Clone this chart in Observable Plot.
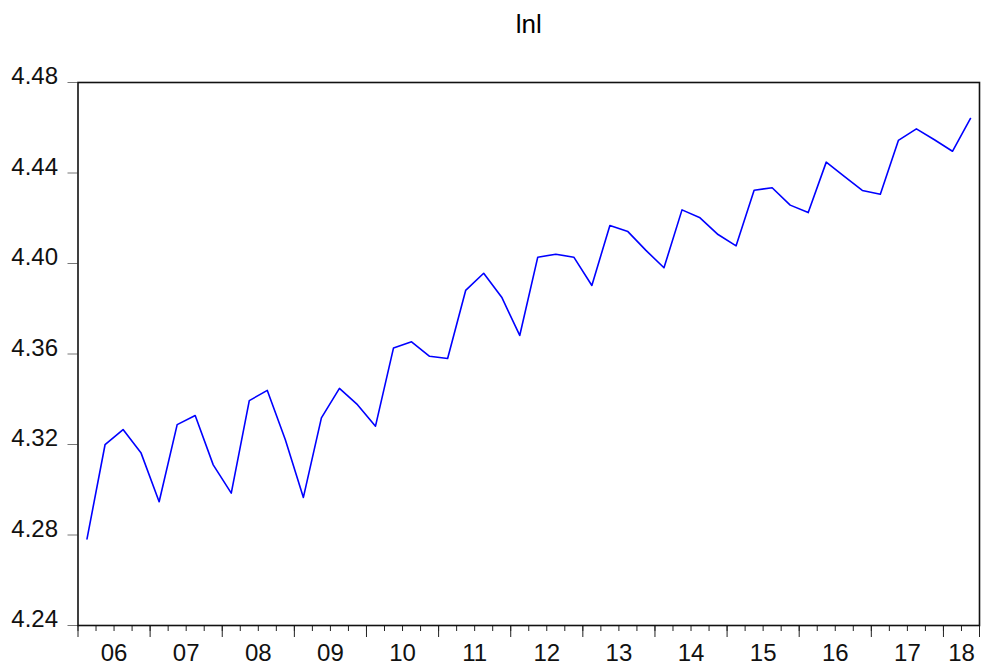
<!DOCTYPE html>
<html>
<head>
<meta charset="utf-8">
<script src="https://cdn.jsdelivr.net/npm/d3@7"></script>
<script src="https://cdn.jsdelivr.net/npm/@observablehq/plot@0.6"></script>
<style>
  html, body { margin: 0; padding: 0; background: #fff; }
  #chart svg { display: block; }
</style>
</head>
<body>
<div id="chart"></div>
<script>
// Series lnl, quarterly, 2006Q1 .. 2018Q2
const title = "lnl";
const startYear = 2006;
const values = [
  4.2783, 4.3199, 4.3266, 4.3162, 4.2947, 4.3288, 4.3328, 4.3110, 4.2985, 4.3394,
  4.3439, 4.3221, 4.2966, 4.3318, 4.3448, 4.3376, 4.3281, 4.3627, 4.3654, 4.3590,
  4.3580, 4.3881, 4.3957, 4.3851, 4.3682, 4.4028, 4.4041, 4.4028, 4.3903, 4.4168,
  4.4141, 4.4058, 4.3981, 4.4237, 4.4202, 4.4128, 4.4078, 4.4324, 4.4335, 4.4258,
  4.4225, 4.4448, 4.4385, 4.4323, 4.4306, 4.4544, 4.4595, 4.4547, 4.4496, 4.4641
];
const years = [2006, 2007, 2008, 2009, 2010, 2011, 2012, 2013, 2014, 2015, 2016, 2017, 2018];
const yearLabels = ["06", "07", "08", "09", "10", "11", "12", "13", "14", "15", "16", "17", "18"];
const yTicks = [4.24, 4.28, 4.32, 4.36, 4.40, 4.44, 4.48];

// each observation plotted at the middle of its quarter
const data = values.map((v, i) => ({ t: startYear + (i + 0.5) / 4, v }));
const endT = startYear + values.length / 4;
const quarterTicks = d3.range(0, values.length + 1).map(i => startYear + i / 4);
// label at the middle of the visible part of each year
const labelPos = years.map(y => (y + Math.min(y + 1, endT)) / 2);
const labelOf = new Map(labelPos.map((p, i) => [p, yearLabels[i]]));

const font = "'Liberation Sans', Arial, Helvetica, sans-serif";

const chart = Plot.plot({
  width: 986,
  height: 668,
  marginLeft: 77.5,
  marginRight: 7,
  marginTop: 82,
  marginBottom: 43,
  style: { fontFamily: font, fontSize: "24px", background: "#fff", color: "#000" },
  x: { domain: [startYear, endT], axis: null },
  y: { domain: [4.24, 4.48], axis: null },
  marks: [
    Plot.axisY(yTicks, {
      anchor: "left",
      tickSize: 10,
      stroke: "#777",
      text: null,
      label: null
    }),
    Plot.axisY(yTicks, {
      anchor: "left",
      tickSize: 0,
      tickPadding: 20,
      fill: "#111",
      fontSize: 24,
      dy: -6,
      tickFormat: d => d.toFixed(2),
      label: null
    }),
    Plot.axisX(quarterTicks, {
      anchor: "bottom",
      tickSize: 6,
      stroke: "#222",
      text: null,
      label: null
    }),
    Plot.axisX(years.concat([endT]), {
      anchor: "bottom",
      tickSize: 12,
      stroke: "#222",
      text: null,
      label: null
    }),
    Plot.axisX(labelPos, {
      anchor: "bottom",
      tickSize: 0,
      tickPadding: 18,
      fontSize: 24,
      fill: "#111",
      tickFormat: d => labelOf.get(d),
      label: null
    }),
    Plot.lineY(data, { x: "t", y: "v", stroke: "#0000ff", strokeWidth: 1.6 }),
    Plot.frame({ stroke: "#111", strokeWidth: 1.6 }),
    Plot.text([title], {
      frameAnchor: "top",
      lineAnchor: "bottom",
      dy: -50,
      fontSize: 26,
      fill: "#000",
      text: d => d
    })
  ]
});

document.getElementById("chart").appendChild(chart);
</script>
</body>
</html>
